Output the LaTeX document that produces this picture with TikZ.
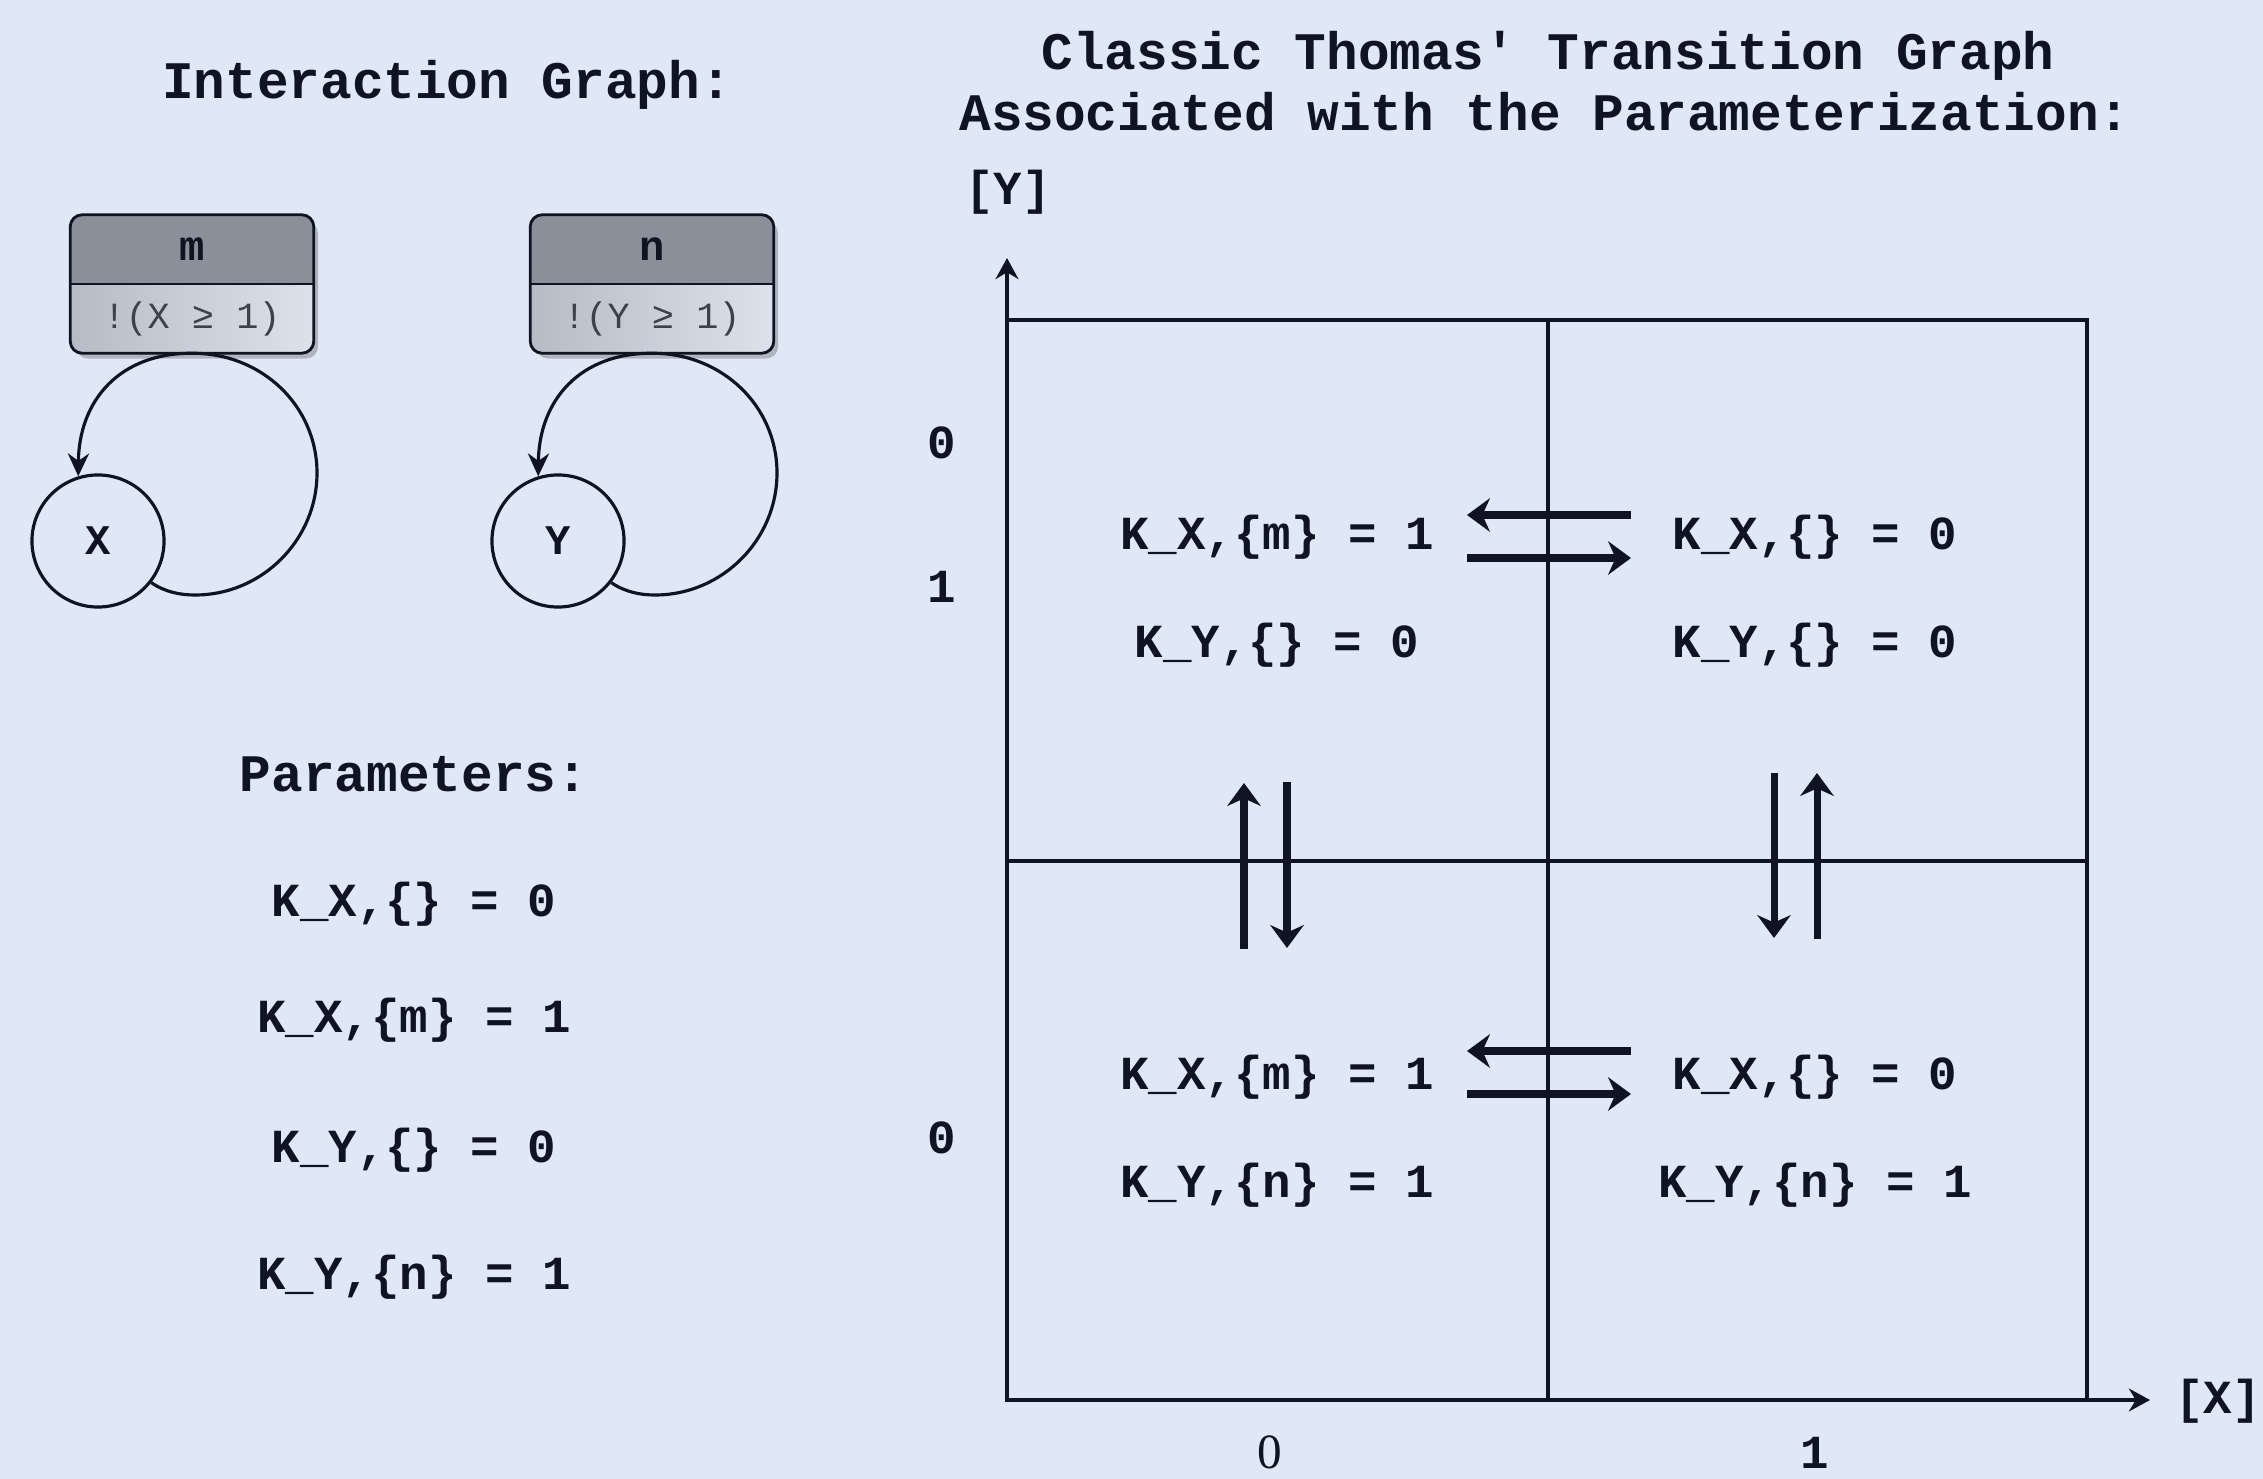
\documentclass[tikz,border=0pt]{standalone}
\usepackage{fontspec}
\setmainfont{Liberation Serif}
\setmonofont{Liberation Mono}
\usetikzlibrary{arrows.meta,calc,shadows}
\definecolor{bg}{HTML}{E1E8F5}
\definecolor{ink}{HTML}{0E1422}
\definecolor{headgray}{HTML}{8A8F9A}
\definecolor{bodyl}{HTML}{B6BBC6}
\definecolor{bodyr}{HTML}{DDE1EB}
\definecolor{condgray}{HTML}{3C414B}
\tikzset{
  heading/.style={font=\ttfamily\bfseries\fontsize{15}{18}\selectfont,text=ink,anchor=base,inner sep=0pt},
  param/.style={font=\ttfamily\bfseries\fontsize{13.5}{16}\selectfont,text=ink,anchor=base,inner sep=0pt},
  varnode/.style={circle,draw=ink,line width=.9pt,minimum size=1.32cm,inner sep=0pt,
                  font=\ttfamily\bfseries\fontsize{12}{14}\selectfont,text=ink},
  condbox/.style={rectangle,minimum width=2.42cm,minimum height=1.37cm,rounded corners=1.2mm,
                  left color=bodyl,right color=bodyr,
                  drop shadow={shadow xshift=.5mm,shadow yshift=-.6mm,fill=black,opacity=.22}},
  condhead/.style={font=\ttfamily\bfseries\fontsize{12}{14}\selectfont,text=ink,inner sep=0pt},
  condtext/.style={font=\ttfamily\fontsize{10.5}{12}\selectfont,text=condgray,inner sep=0pt},
  loopedge/.style={draw=ink,line width=.9pt},
  frame/.style={draw=ink,line width=.9pt},
  axis/.style={-{Stealth[length=6pt,width=6.5pt]},draw=ink,line width=1.3pt},
  jump/.style={-{Stealth[length=6.5pt,width=9.5pt]},draw=ink,line width=2pt},
}

\begin{document}
\begin{tikzpicture}[x=0.01cm,y=-0.01cm]
  \path[use as bounding box,fill=bg] (0,0) rectangle (2263,1479);

  % interaction graph
  \node[heading] (igtitle) at (447,99) {Interaction Graph:};

  \node[condbox] (m) at (192,284) {};
  \begin{scope}
    \clip[rounded corners=1.2mm] (m.south west) rectangle (m.north east);
    \fill[headgray] (m.west) rectangle (m.north east);
  \end{scope}
  \draw[ink,line width=.8pt] (m.west) -- (m.east);
  \draw[ink,line width=.8pt,rounded corners=1.2mm] (m.south west) rectangle (m.north east);
  \node[condhead] (mname) at ($(m.north)!.5!(m.center)$) {m};
  \node[condtext] (mcond) at ($(m.south)!.5!(m.center)$) {!(X ≥ 1)};

  \node[condbox] (n) at (652,284) {};
  \begin{scope}
    \clip[rounded corners=1.2mm] (n.south west) rectangle (n.north east);
    \fill[headgray] (n.west) rectangle (n.north east);
  \end{scope}
  \draw[ink,line width=.8pt] (n.west) -- (n.east);
  \draw[ink,line width=.8pt,rounded corners=1.2mm] (n.south west) rectangle (n.north east);
  \node[condhead] (nname) at ($(n.north)!.5!(n.center)$) {n};
  \node[condtext] (ncond) at ($(n.south)!.5!(n.center)$) {!(Y ≥ 1)};

  \node[varnode] (X) at (98,541) {X};
  \node[varnode] (Y) at (558,541) {Y};

  \draw[loopedge] (X.-38) .. controls (165,592) and (180,595) .. (195,595)
    .. controls (262,595) and (317,540) .. (317,473)
    .. controls (317,406) and (262,353) .. (m.south);
  \draw[loopedge,-{Stealth[length=6.5pt,width=6pt]}] (m.south) .. controls (120,353) and (79,400) .. (X.107);
  \draw[loopedge] (Y.-38) .. controls (625,592) and (640,595) .. (655,595)
    .. controls (722,595) and (777,540) .. (777,473)
    .. controls (777,406) and (722,353) .. (n.south);
  \draw[loopedge,-{Stealth[length=6.5pt,width=6pt]}] (n.south) .. controls (580,353) and (539,400) .. (Y.107);

  % parameters
  \node[heading] (ptitle) at (414,791) {Parameters:};
  \node[param] (p1) at (414,916) {K\_X,\{\} = 0};
  \node[param] (p2) at (414,1032) {K\_X,\{m\} = 1};
  \node[param] (p3) at (414,1162) {K\_Y,\{\} = 0};
  \node[param] (p4) at (414,1289) {K\_Y,\{n\} = 1};

  % transition graph
  \node[heading] (tg1) at (1548,70) {Classic Thomas' Transition Graph};
  \node[heading] (tg2) at (1545,131) {Associated with the Parameterization:};

  \draw[frame] (1007,320) rectangle (2087,1400);
  \draw[frame] (1548,320) -- (1548,1400);
  \draw[frame] (1007,861) -- (2087,861);
  \coordinate (O) at (1007,1400);
  \coordinate (ytip) at (1007,258);
  \coordinate (xtip) at (2150,1400);
  \draw[axis] (O) -- (ytip);
  \draw[axis] (O) -- (xtip);
  \node[param] (ylab) at (1008,205) {[Y]};
  \node[param] (xlab) at (2218,1413) {[X]};

  \node[param] (y0a) at (942,458) {0};
  \node[param] (y1) at (942,602) {1};
  \node[param] (y0b) at (942,1153) {0};
  \node[anchor=base,inner sep=0pt,font=\rmfamily\fontsize{14}{16}\selectfont,text=ink] (x0) at (1270,1468) {0};
  \node[param] (x1) at (1815,1468) {1};

  % states
  \node[param] (s01x) at (1277,549) {K\_X,\{m\} = 1};
  \node[param] (s01y) at (1277,657) {K\_Y,\{\} = 0};
  \node[param] (s11x) at (1815,549) {K\_X,\{\} = 0};
  \node[param] (s11y) at (1815,657) {K\_Y,\{\} = 0};
  \node[param] (s00x) at (1277,1089) {K\_X,\{m\} = 1};
  \node[param] (s00y) at (1277,1197) {K\_Y,\{n\} = 1};
  \node[param] (s10x) at (1815,1089) {K\_X,\{\} = 0};
  \node[param] (s10y) at (1815,1197) {K\_Y,\{n\} = 1};

  % transitions
  \draw[jump] (1631,515) -- (1467,515);
  \draw[jump] (1467,558) -- (1631,558);
  \draw[jump] (1631,1051) -- (1467,1051);
  \draw[jump] (1467,1094) -- (1631,1094);
  \draw[jump] (1244,949) -- (1244,783);
  \draw[jump] (1287,782) -- (1287,948);
  \draw[jump] (1774,773) -- (1774,938);
  \draw[jump] (1817,939) -- (1817,773);
\end{tikzpicture}
\end{document}
